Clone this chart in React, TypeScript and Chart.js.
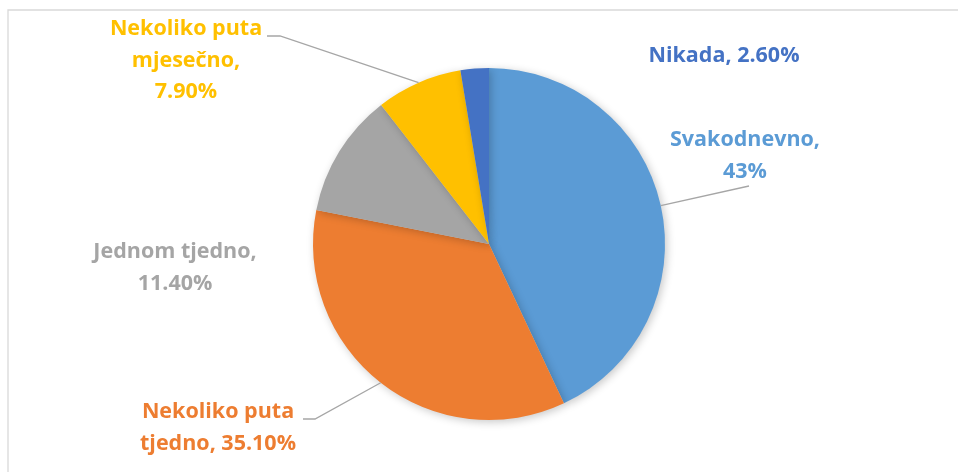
import React, { useEffect, useRef } from "react";
import { Chart, registerables } from "chart.js";

Chart.register(...registerables);

const categories = ["Svakodnevno", "Nekoliko puta tjedno", "Jednom tjedno", "Nekoliko puta mjesečno", "Nikada"];
const values = [43, 35.1, 11.4, 7.9, 2.6];
const valueLabels = ["43%", "35.10%", "11.40%", "7.90%", "2.60%"];
const colors = ["#5B9BD5", "#ED7D31", "#A5A5A5", "#FFC000", "#4472C4"];

// label text lines (layout only)
const labelLines = [
  ["Svakodnevno,", "43%"],
  ["Nekoliko puta", "tjedno, 35.10%"],
  ["Jednom tjedno,", "11.40%"],
  ["Nekoliko puta", "mjesečno,", "7.90%"],
  ["Nikada, 2.60%"],
];
// anchor: center x, first baseline y; leader: elbow points after arc
const labelLayout = [
  { x: 745, y: 146, leader: [[749, 186]] },
  { x: 218, y: 418, leader: [[315, 419], [303, 419]] },
  { x: 175, y: 258, leader: [] },
  { x: 186, y: 35, leader: [[280, 36], [267, 36]] },
  { x: 724, y: 62, leader: [] },
];

const FONT = "bold 21.5px 'Open Sans'";
const LINE_H = 31.5;

const labelPlugin = {
  id: "pieLabels",
  beforeDatasetsDraw(chart: any) {
    const ctx = chart.ctx;
    ctx.save();
    ctx.strokeStyle = "#D9D9D9";
    ctx.lineWidth = 1.3;
    ctx.beginPath();
    ctx.moveTo(8, 472);
    ctx.lineTo(8, 10);
    ctx.lineTo(958, 10);
    ctx.stroke();
    ctx.restore();
    ctx.save();
    ctx.shadowColor = "rgba(0,0,0,0.22)";
    ctx.shadowBlur = 8;
    ctx.shadowOffsetX = 2;
    ctx.shadowOffsetY = 2;
  },
  afterDatasetsDraw(chart: any) {
    const ctx = chart.ctx;
    ctx.restore();
    const meta = chart.getDatasetMeta(0);
    meta.data.forEach((arc: any, i: number) => {
      const lay = labelLayout[i];
      if (lay.leader.length) {
        const mid = (arc.startAngle + arc.endAngle) / 2;
        const sx = arc.x + Math.cos(mid) * arc.outerRadius;
        const sy = arc.y + Math.sin(mid) * arc.outerRadius;
        ctx.save();
        ctx.strokeStyle = "#A6A6A6";
        ctx.lineWidth = 1.3;
        ctx.beginPath();
        ctx.moveTo(sx, sy);
        lay.leader.forEach((p: number[]) => ctx.lineTo(p[0], p[1]));
        ctx.stroke();
        ctx.restore();
      }
      ctx.save();
      ctx.font = FONT;
      ctx.fillStyle = colors[i];
      ctx.textAlign = "center";
      ctx.textBaseline = "alphabetic";
      labelLines[i].forEach((line, j) => {
        ctx.fillText(line, lay.x, lay.y + j * LINE_H);
      });
      ctx.restore();
    });
  },
};

export default function App() {
  const ref = useRef<HTMLCanvasElement>(null);
  useEffect(() => {
    if (!ref.current) return;
    const chart = new Chart(ref.current, {
      type: "pie",
      data: {
        labels: categories,
        datasets: [
          {
            data: values,
            backgroundColor: colors,
            borderWidth: 0,
          },
        ],
      },
      options: {
        responsive: false,
        animation: false,
        layout: { padding: { left: 313, right: 293, top: 68, bottom: 52 } },
        plugins: {
          legend: { display: false },
          tooltip: { enabled: false },
          title: { display: false },
        },
      },
      plugins: [labelPlugin],
    });
    return () => chart.destroy();
  }, []);
  return (
    <div style={{ position: "fixed", left: 0, top: 0, width: 958, height: 472, background: "#fff" }}>
      <canvas ref={ref} width={958} height={472} />
    </div>
  );
}
